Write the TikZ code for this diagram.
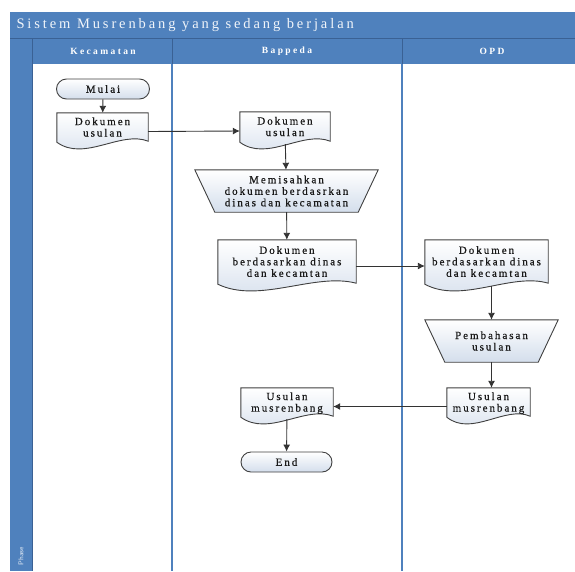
\documentclass[tikz,border=0pt]{standalone}
\usepackage{fontspec}
\setmainfont{Liberation Serif}
\newfontfamily\lblfont{Liberation Serif}[LetterSpace=18,FakeBold=0.6]
\newfontfamily\headfont{Liberation Serif}[LetterSpace=25]
\newfontfamily\titlefont{Liberation Serif}[LetterSpace=20]
\usetikzlibrary{calc,arrows.meta,positioning}
\definecolor{laneblue}{RGB}{79,129,189}
\definecolor{lanedark}{RGB}{58,97,148}
\definecolor{shapefill}{RGB}{212,222,236}
\definecolor{shapeline}{RGB}{64,64,64}
\pgfdeclarelayer{lanes}
\pgfdeclarelayer{outline}
\pgfsetlayers{lanes,outline,main}
% outline of a document shape drawn round a named node
\newcommand{\docshape}[1]{%
  \draw[shapebox] (#1.north west) -- (#1.north east)
    -- ($(#1.south east)+(0,-9)$)
    .. controls ($(#1.south west)!0.7!(#1.south east)+(0,-20)$)
    and ($(#1.south west)!0.3!(#1.south east)+(0,12)$)
    .. ($(#1.south west)+(0,-8)$) -- cycle;}
% outline of a manual operation (trapezium, wide side up)
\newcommand{\manualop}[1]{%
  \draw[shapebox] (#1.north west) -- (#1.north east)
    -- ($(#1.south east)+(-20,0)$) -- ($(#1.south west)+(20,0)$) -- cycle;}

\begin{document}
\begin{tikzpicture}[
        x=1pt,
        y=-1pt,
        lane text/.style={text=white,font=\headfont\fontsize{9.5}{11}\selectfont\bfseries},
        flowtext/.style={font=\lblfont\fontsize{11}{11.5}\selectfont,align=center,text=black!90},
        docnode/.style={flowtext,inner sep=0pt,text depth=9pt},
        opnode/.style={flowtext,inner sep=0pt},
        terminator/.style={flowtext,draw=shapeline,line width=0.9pt,rounded corners=10pt,
            top color=white,bottom color=shapefill,minimum height=20pt,inner sep=0pt},
        shapebox/.style={draw=shapeline,line width=0.9pt,top color=white,bottom color=shapefill},
        flow/.style={draw=black!80,line width=0.9pt,-{Latex[length=7pt,width=7pt]}},
        fromdoc/.style={flow,shorten <=-6pt}
    ]
        \useasboundingbox (0,0) rectangle (575,571);

        % The swimlane frame.
        \begin{pgfonlayer}{lanes}
            \fill[laneblue] (10,12) rectangle (575,64);
            \fill[laneblue] (10,12) rectangle (32,571);
            \draw[lanedark] (10,38) -- (575,38);
            \draw[lanedark] (32,38) -- (32,571);
            \draw[lanedark] (172,38) -- (172,64);
            \draw[lanedark] (402,38) -- (402,64);
            \draw[laneblue,line width=1.5pt] (172,64) -- (172,571);
            \draw[laneblue,line width=1.5pt] (402,64) -- (402,571);
        \end{pgfonlayer}
        \node[anchor=west,text=white!92!laneblue,font=\titlefont\fontsize{14.5}{16}\selectfont]
            (title) at (13,25) {Sistem Musrenbang yang sedang berjalan};
        \node[lane text] (kec) at (103,51) {Kecamatan};
        \node[lane text] (bap) at (287,51) {Bappeda};
        \node[lane text] (opd) at (492,51) {OPD};
        \node[rotate=90,anchor=west,text=white!85!laneblue,font=\sffamily\fontsize{7}{8}\selectfont]
            (phase) at (21,569) {Phase};

        % Kecamatan lane.
        \node[terminator,minimum width=93pt] (mulai) at (103,89) {Mulai};
        \node[docnode,minimum width=91pt,minimum height=37pt] (kdok) at (102.5,131.5)
            {Dokumen\\usulan};

        % Bappeda lane.
        \node[docnode,minimum width=90pt,minimum height=38pt] (bdok) at (285,131)
            {Dokumen\\usulan};
        \node[opnode,minimum width=183pt,minimum height=42pt] (pisah) at (286.5,191)
            {Memisahkan\\dokumen berdasrkan\\dinas dan kecamatan};
        \node[docnode,minimum width=138pt,minimum height=52pt] (bdinas) at (287,266)
            {Dokumen\\berdasarkan dinas\\dan kecamtan};
        \node[docnode,minimum width=92pt,minimum height=37pt] (busul) at (287,406.5)
            {Usulan\\musrenbang};
        \node[terminator,minimum width=91pt] (selesai) at (286.5,462) {End};

        % OPD lane.
        \node[docnode,minimum width=123pt,minimum height=52pt] (odinas) at (486.5,266)
            {Dokumen\\berdasarkan dinas\\dan kecamtan};
        \node[opnode,minimum width=133pt,minimum height=42pt] (bahas) at (491.5,341)
            {Pembahasan\\usulan};
        \node[docnode,minimum width=83pt,minimum height=37pt] (ousul) at (488.5,406.5)
            {Usulan\\musrenbang};

        \begin{pgfonlayer}{outline}
            \docshape{kdok}
            \docshape{bdok}
            \docshape{bdinas}
            \docshape{busul}
            \docshape{odinas}
            \docshape{ousul}
            \manualop{pisah}
            \manualop{bahas}
        \end{pgfonlayer}

        % The flow between the steps.
        \draw[flow] (mulai) -- (kdok);
        \draw[flow] (kdok.east) -- (bdok.west);
        \draw[fromdoc] (bdok) -- (pisah);
        \draw[flow] (pisah) -- (bdinas);
        \draw[flow] (bdinas.east) -- (odinas.west);
        \draw[fromdoc] (odinas.south -| bahas.north) -- (bahas.north);
        \draw[flow] (bahas.south) -- (ousul.north -| bahas.south);
        \draw[flow] (ousul.west) -- (busul.east);
        \draw[fromdoc] (busul) -- (selesai);
    \end{tikzpicture}
\end{document}
